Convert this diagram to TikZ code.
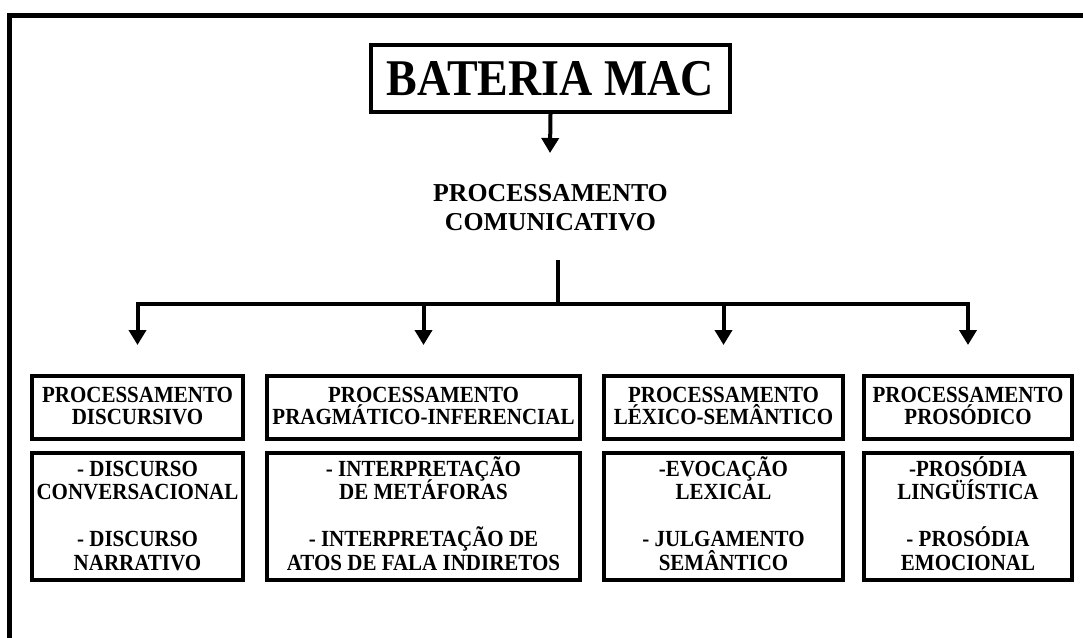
\documentclass[tikz,border=0pt]{standalone}
\usepackage{fontspec}
\setmainfont{Liberation Serif}
\newfontfamily\tallfont[FakeStretch=0.909]{Liberation Serif}
\newfontfamily\titlefont[FakeStretch=0.893]{Liberation Serif}
\usetikzlibrary{arrows.meta}
\newcommand\topr[1]{\rule{0pt}{#1}}
\newcommand\botr[1]{\rule[-#1]{0pt}{#1}}
\begin{document}
\begin{tikzpicture}[x=1pt,y=-1pt,
  ln/.style={line width=4pt, line join=miter},
  arr/.style={ln, -{Triangle[width=17pt,length=15pt]}},
  boxa/.style={draw, line width=4pt, fill=white, inner sep=0pt, align=center,
    font={\tallfont\fontsize{23.1}{22}\selectfont\bfseries\lineskiplimit=-30pt}, minimum height=63pt},
  boxb/.style={boxa, font={\tallfont\fontsize{23.1}{23.5}\selectfont\bfseries\lineskiplimit=-30pt}, minimum height=127pt},
  titlebox/.style={draw, line width=4pt, fill=white, inner sep=0pt, align=center,
    font={\titlefont\fontsize{51.5}{55}\selectfont\bfseries}, minimum width=359pt, minimum height=67pt},
  commtext/.style={inner sep=0pt, align=center,
    font={\fontsize{25.8}{29}\selectfont\bfseries\lineskiplimit=-30pt}},
  frame/.style={line width=5pt, line join=miter}
]
\useasboundingbox (0,0) rectangle (1083,637);
% outer frame (only top and left edges visible)
\draw[frame] (9.5,700) -- (9.5,15.5) -- (1150,15.5);

% title
\node[titlebox] (title) at (550.5,78.5) {\topr{35pt}BATERIA MAC};
\coordinate (ttip) at (550,153);
\draw[arr] (title.south) -- (ttip);

% communicative processing
\node[commtext] (comm) at (550.5,208) {\topr{20pt}PROCESSAMENTO\\COMUNICATIVO\botr{5pt}};
\coordinate (stem) at (558,260);
\coordinate (hub) at (558,304);
\coordinate (a1) at (137.5,345);
\coordinate (a2) at (423.5,345);
\coordinate (a3) at (723.5,345);
\coordinate (a4) at (968,345);

% row 1 boxes
\node[boxa, minimum width=211pt] (p1) at (137.5,407.5) {\topr{16pt}PROCESSAMENTO\\DISCURSIVO\botr{5pt}};
\node[boxa, minimum width=313pt] (p2) at (423.5,407.5) {\topr{16pt}PROCESSAMENTO\\PRAGMÁTICO-INFERENCIAL\botr{5pt}};
\node[boxa, minimum width=239pt] (p3) at (723.5,407.5) {\topr{16pt}PROCESSAMENTO\\LÉXICO-SEMÂNTICO\botr{5pt}};
\node[boxa, minimum width=208pt] (p4) at (968,407.5) {\topr{16pt}PROCESSAMENTO\\PROSÓDICO\botr{5pt}};

% row 2 boxes
\node[boxb, minimum width=211pt] (q1) at (137.5,516.5) {\topr{21pt}- DISCURSO\\CONVERSACIONAL\\~\\- DISCURSO\\NARRATIVO\botr{8pt}};
\node[boxb, minimum width=313pt] (q2) at (423.5,516.5) {\topr{21pt}- INTERPRETAÇÃO\\DE METÁFORAS\\~\\- INTERPRETAÇÃO DE\\ATOS DE FALA INDIRETOS\botr{8pt}};
\node[boxb, minimum width=239pt] (q3) at (723.5,516.5) {\topr{21pt}-EVOCAÇÃO\\LEXICAL\\~\\- JULGAMENTO\\SEMÂNTICO\botr{8pt}};
\node[boxb, minimum width=208pt] (q4) at (968,516.5) {\topr{21pt}-PROSÓDIA\\LINGÜÍSTICA\\~\\- PROSÓDIA\\EMOCIONAL\botr{8pt}};

% connectors
\draw[ln] (stem) -- (hub);
\draw[arr] (hub) -| (a1);
\draw[arr] (hub) -| (a2);
\draw[arr] (hub) -| (a3);
\draw[arr] (hub) -| (a4);
\end{tikzpicture}
\end{document}
